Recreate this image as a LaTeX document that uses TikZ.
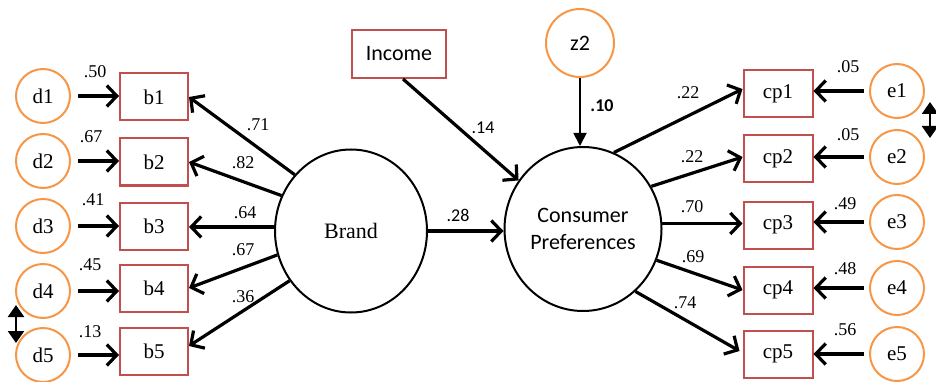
\documentclass[tikz,border=0pt]{standalone}
\usepackage{fontspec}
\setmainfont{Liberation Serif}
\newfontfamily\calibri{Carlito}
\usetikzlibrary{arrows.meta,shapes.geometric}
\definecolor{boxred}{HTML}{C0504D}
\definecolor{errorange}{HTML}{F79646}

\begin{document}
\begin{tikzpicture}[x=1pt,y=-1pt,
  obs/.style={draw=boxred,line width=2pt,minimum width=68pt,minimum height=47pt,
    inner sep=0pt,font=\rmfamily\fontsize{21}{24}\selectfont},
  err/.style={circle,draw=errorange,line width=2pt,minimum size=54pt,
    inner sep=0pt,font=\rmfamily\fontsize{21}{24}\selectfont},
  lat/.style={ellipse,draw,line width=2pt,inner sep=0pt},
  load/.style={line width=3.2pt,-{Straight Barb[length=10pt,width=21pt]}},
  cov/.style={line width=2.4pt,{Triangle[length=12pt,width=16pt]}-{Triangle[length=12pt,width=16pt]}},
  coef/.style={font=\rmfamily\fontsize{18}{20}\selectfont},
  ccoef/.style={font=\calibri\fontsize{18}{20}\selectfont}]

  \useasboundingbox (0,0) rectangle (936,382);

  \node[err] (d1) at (43,96) {d1};
  \node[err] (d2) at (43,161) {d2};
  \node[err] (d3) at (43,226) {d3};
  \node[err] (d4) at (43,291) {d4};
  \node[err] (d5) at (43,355) {d5};

  \node[obs] (b1) at (154,97) {b1};
  \node[obs] (b2) at (154,162) {b2};
  \node[obs] (b3) at (154,226) {b3};
  \node[obs] (b4) at (154,288) {b4};
  \node[obs] (b5) at (154,351) {b5};

  \node[lat,minimum width=152pt,minimum height=163pt,font=\rmfamily\fontsize{22}{24}\selectfont]
    (brand) at (351,231) {Brand};
  \node[lat,minimum width=157pt,minimum height=164pt,align=center,
    font=\calibri\fontsize{22}{27}\selectfont] (cp) at (583,229) {Consumer\\Preferences};
  \node[obs,minimum width=94pt,minimum height=48pt,font=\calibri\fontsize{22}{24}\selectfont]
    (income) at (399,54) {Income};
  \node[err,minimum size=68pt,font=\calibri\fontsize{22}{24}\selectfont] (z2) at (580,43) {z2};

  \node[obs,minimum width=69pt] (cp1) at (778,94) {cp1};
  \node[obs,minimum width=69pt] (cp2) at (778,159) {cp2};
  \node[obs,minimum width=69pt] (cp3) at (778,225) {cp3};
  \node[obs,minimum width=69pt] (cp4) at (778,290) {cp4};
  \node[obs,minimum width=69pt] (cp5) at (778,354) {cp5};

  \node[err] (e1) at (897,91) {e1};
  \node[err] (e2) at (897,157) {e2};
  \node[err] (e3) at (897,222) {e3};
  \node[err] (e4) at (897,288) {e4};
  \node[err] (e5) at (897,354) {e5};

  \coordinate (c45a) at (16,305);
  \coordinate (c45b) at (16,343);
  \coordinate (c12a) at (930,102);
  \coordinate (c12b) at (930,138);

  \draw[load] ([xshift=7pt]d1.east) -- (d1 -| b1.west);
  \draw[load] ([xshift=7pt]d2.east) -- (d2 -| b2.west);
  \draw[load] ([xshift=7pt]d3.east) -- (d3 -| b3.west);
  \draw[load] ([xshift=7pt]d4.east) -- (d4 -| b4.west);
  \draw[load] ([xshift=7pt]d5.east) -- (d5 -| b5.west);

  \draw[load] (brand.135) -- (b1.east);
  \draw[load] (brand.153) -- (b2.east);
  \draw[load] (brand.177) -- (b3.east |- brand.177);
  \draw[load] (brand.198) -- (b4.east);
  \draw[load] (brand.219) -- ([yshift=5pt]b5.east);

  \draw[load] (brand.east) -- (brand.east -| cp.west);
  \draw[load] ([xshift=4pt]income.south) -- (cp.143);
  \draw[line width=1.8pt,-{Triangle[length=13pt,width=13pt]}] (z2.south) -- (z2.south |- cp.north);

  \draw[load] (cp.68) -- ([yshift=5pt]cp1.west);
  \draw[load] (cp.32) -- ([yshift=2pt]cp2.west);
  \draw[load] (cp.4) -- (cp3.west |- cp.4);
  \draw[load] (cp.-23) -- (cp4.west);
  \draw[load] (cp.-50) -- ([xshift=-3pt,yshift=3pt]cp5.west);

  \draw[load] ([xshift=-5pt]e1.west) -- (e1 -| cp1.east);
  \draw[load] ([xshift=-5pt]e2.west) -- (e2 -| cp2.east);
  \draw[load] ([xshift=-5pt]e3.west) -- (e3 -| cp3.east);
  \draw[load] ([xshift=-5pt]e4.west) -- (e4 -| cp4.east);
  \draw[load] ([xshift=-5pt]e5.west) -- (e5 -| cp5.east);

  \draw[cov] (c45a) -- (c45b);
  \draw[cov] (c12a) -- (c12b);

  \node[coef] (ld1) at (95,72) {.50};
  \node[coef] (ld2) at (91,137) {.67};
  \node[coef] (ld3) at (93,200) {.41};
  \node[coef] (ld4) at (90,265) {.45};
  \node[coef] (ld5) at (90,332) {.13};

  \node[coef] (lb1) at (258,125) {.71};
  \node[coef] (lb2) at (243,163) {.82};
  \node[coef] (lb3) at (245,213) {.64};
  \node[coef] (lb4) at (243,250) {.67};
  \node[coef] (lb5) at (243,297) {.36};

  \node[ccoef] (lbc) at (458,215) {.28};
  \node[ccoef] (lic) at (483,128) {.14};
  \node[ccoef,font=\calibri\bfseries\fontsize{18}{20}\selectfont] (lzc) at (602,106) {.10};

  \node[coef] (lc1) at (688,93) {.22};
  \node[coef] (lc2) at (692,157) {.22};
  \node[coef] (lc3) at (692,207) {.70};
  \node[coef] (lc4) at (693,257) {.69};
  \node[coef] (lc5) at (685,303) {.74};

  \node[coef] (le1) at (848,67) {.05};
  \node[coef] (le2) at (848,135) {.05};
  \node[coef] (le3) at (845,204) {.49};
  \node[coef] (le4) at (845,269) {.48};
  \node[coef] (le5) at (845,330) {.56};

\end{tikzpicture}
\end{document}
